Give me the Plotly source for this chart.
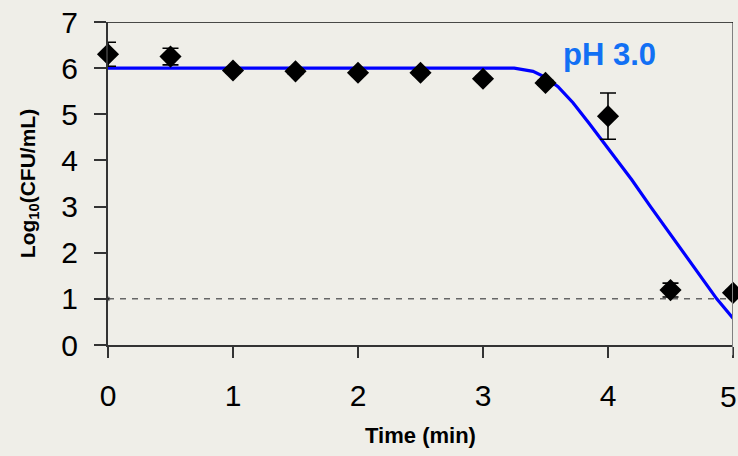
import plotly.graph_objects as go

# Observed data
time_obs = [0, 0.5, 1, 1.5, 2, 2.5, 3, 3.5, 4, 4.5, 5]
log_cfu = [6.3, 6.25, 5.95, 5.93, 5.9, 5.9, 5.77, 5.68, 4.96, 1.19, 1.13]
log_err = [0.26, 0.18, 0.05, 0.05, 0.05, 0.05, 0.05, 0.05, 0.5, 0.15, 0.05]

# Fitted model curve
time_fit = [0, 3.25, 3.4, 3.5, 3.6, 3.72, 3.85, 3.99, 4.1, 4.19, 4.34, 4.55, 4.74, 4.87, 5.0]
log_fit = [6.0, 6.0, 5.93, 5.8, 5.6, 5.25, 4.8, 4.3, 3.9, 3.58, 3.0, 2.21, 1.47, 1.0, 0.58]

# Detection limit
dl_x = [0, 5]
dl_y = [1, 1]

x_ticks = [0, 1, 2, 3, 4, 5]
y_ticks = [0, 1, 2, 3, 4, 5, 6, 7]

BG = "#efeee8"
FONT = "Liberation Sans, Arial, sans-serif"

fig = go.Figure()

fig.add_trace(go.Scatter(
    x=dl_x, y=dl_y, mode="lines+markers",
    line=dict(color="#666666", width=1.5, dash="6px,6px"),
    marker=dict(size=[4, 0], color="black"),
    showlegend=False, hoverinfo="skip"))

fig.add_trace(go.Scatter(
    x=time_fit, y=log_fit, mode="lines",
    line=dict(color="#0000ff", width=3.2),
    showlegend=False))

fig.add_trace(go.Scatter(
    x=time_obs, y=log_cfu, mode="markers",
    marker=dict(symbol="diamond", size=17, color="black"),
    error_y=dict(type="data", array=log_err, visible=True,
                 color="black", thickness=1.6, width=8),
    showlegend=False, cliponaxis=False))

# right border (gray)
fig.add_shape(type="line", xref="x", yref="paper", x0=5, x1=5, y0=0, y1=1,
              line=dict(color="#808080", width=2))
fig.add_shape(type="line", xref="x", yref="paper", x0=5, x1=5, y0=0, y1=-0.032,
              line=dict(color="#808080", width=2))

fig.add_annotation(x=4.01, y=6.3, xref="x", yref="y", text="<b>pH 3.0</b>",
                   showarrow=False, font=dict(family=FONT, size=31, color="#1270f4"))

# last x tick label (plotly drops it at the right edge)
fig.add_annotation(x=x_ticks[-1], y=0, xref="x", yref="paper", text=str(x_ticks[-1]),
                   showarrow=False, yanchor="top", yshift=-33, xshift=-5,
                   font=dict(family=FONT, size=30, color="black"))

fig.update_layout(
    width=738, height=456,
    margin=dict(l=108, r=5, t=22, b=111),
    paper_bgcolor=BG, plot_bgcolor=BG,
    font=dict(family=FONT, color="black"),
    xaxis=dict(range=[0, 5], tickvals=x_ticks, showgrid=False, zeroline=False,
               showline=True, linecolor="#333333", linewidth=2,
               ticks="outside", ticklen=11, tickwidth=1.5, tickcolor="#333333",
               tickfont=dict(size=30), ticklabelstandoff=12,
               title=dict(text="<b>Time (min)</b>", font=dict(size=22), standoff=17)),
    yaxis=dict(range=[0, 7], tickvals=y_ticks, showgrid=False, zeroline=False,
               showline=True, linecolor="#333333", linewidth=2,
               ticks="outside", ticklen=12, tickwidth=1.5, tickcolor="#333333",
               tickfont=dict(size=30), ticklabelstandoff=10,
               title=dict(text="<b>Log<sub>10</sub>(CFU/mL)</b>", font=dict(size=21), standoff=20)),
)

# top border
fig.add_shape(type="line", xref="paper", yref="y", x0=0, x1=1, y0=7, y1=7,
              line=dict(color="#111111", width=1.6))

fig.write_html("out.html")
